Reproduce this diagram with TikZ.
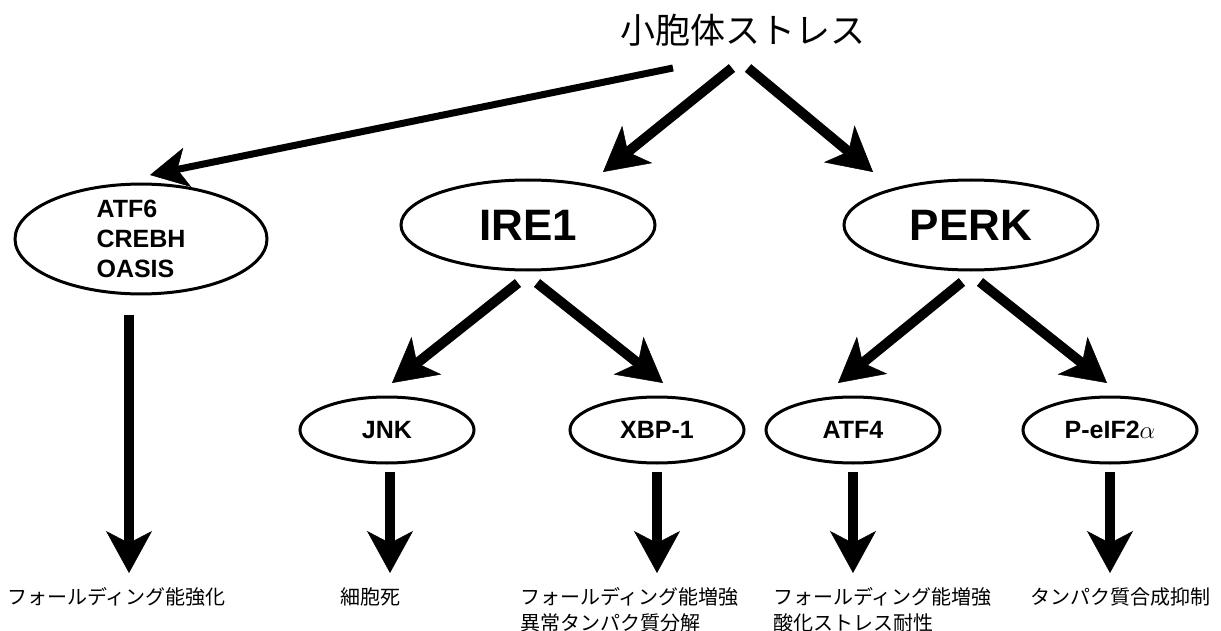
\documentclass[tikz,border=0pt]{standalone}
\usepackage{fontspec}
\setmainfont{Liberation Sans}
\newfontfamily\jp{Noto Sans CJK JP}
\usetikzlibrary{arrows.meta,shapes.geometric,calc}
\begin{document}
\begin{tikzpicture}[x=1pt,y=-1pt,
  oval/.style={ellipse, draw, line width=3pt, inner sep=0pt, align=left,
    font=\bfseries\fontsize{25}{30}\selectfont},
  bigoval/.style={oval, minimum width=254pt, minimum height=90pt,
    font=\bfseries\fontsize{44}{48}\selectfont},
  smalloval/.style={oval, minimum width=174pt, minimum height=66pt},
  diagarrow/.style={line width=10pt,
    -{Stealth[length=44pt,width=48pt,inset=12pt,line width=0.5pt]}},
  downarrow/.style={line width=10pt,
    -{Stealth[length=42pt,width=46pt,inset=12pt,line width=0.5pt]}},
  thinarrow/.style={line width=7pt,
    -{Stealth[length=38pt,width=40pt,inset=10pt,line width=0.5pt]}},
  result/.style={anchor=north west, inner sep=0pt, align=left,
    font=\jp\fontsize{20}{26}\selectfont}
]
\useasboundingbox (0,0) rectangle (1221,631);

\node[font=\jp\fontsize{35}{40}\selectfont, inner sep=0pt] (title) at (743,30) {小胞体ストレス};

\node[oval, minimum width=252pt, minimum height=108pt] (atf6) at (141,239)
  {ATF6\\CREBH\\OASIS};
\node[bigoval] (ire1) at (528,225) {IRE1};
\node[bigoval] (perk) at (971,225) {PERK};

\node[smalloval] (jnk)  at (387,430) {JNK};
\node[smalloval] (xbp1) at (657,430) {XBP-1};
\node[smalloval] (atf4) at (853,430) {ATF4};
\node[smalloval] (peif) at (1110,430) {P-eIF2$\alpha$};

\node[result] (r1) at (7,587) {フォールディング能強化};
\node[result] (r2) at (340,587) {細胞死};
\node[result] (r3) at (520,587) {フォールディング能増強\\異常タンパク質分解};
\node[result] (r4) at (773,587) {フォールディング能増強\\酸化ストレス耐性};
\node[result] (r5) at (1030,587) {タンパク質合成抑制};

% top level
\draw[thinarrow] ($(title.center)+(-70,38)$) -- ($(atf6.center)+(9,-64)$);
\draw[diagarrow] ($(title.center)+(-11,38)$) -- ($(ire1.center)+(75,-53)$);
\draw[diagarrow] ($(title.center)+(5,38)$) -- ($(perk.center)+(-98,-53)$);

% second level
\draw[diagarrow] ($(ire1.center)+(-10,58)$) -- ($(jnk.center)+(5,-47)$);
\draw[diagarrow] ($(ire1.center)+(9,58)$) -- ($(xbp1.center)+(6,-47)$);
\draw[diagarrow] ($(perk.center)+(-9,57)$) -- ($(atf4.center)+(-15,-47)$);
\draw[diagarrow] ($(perk.center)+(9,57)$) -- ($(peif.center)+(-3,-47)$);

% downward
\draw[downarrow] ($(atf6.center)+(-12,76)$) -- ($(atf6.center)+(-12,334)$);
\draw[downarrow] ($(jnk.center)+(3,42)$) -- ($(jnk.center)+(3,143)$);
\draw[downarrow] ($(xbp1.center)+(0,42)$) -- ($(xbp1.center)+(0,143)$);
\draw[downarrow] ($(atf4.center)+(0,42)$) -- ($(atf4.center)+(0,143)$);
\draw[downarrow] ($(peif.center)+(0,42)$) -- ($(peif.center)+(0,143)$);
\end{tikzpicture}
\end{document}
